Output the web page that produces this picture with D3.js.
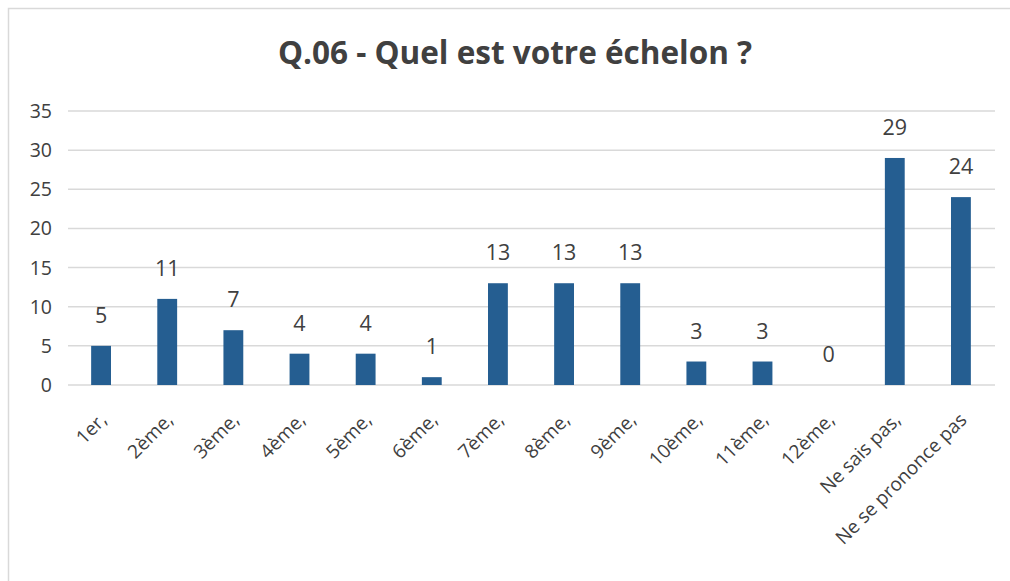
<!DOCTYPE html>
<html>
<head>
<meta charset="utf-8">
<style>
  body { margin: 0; background: #fff; }
  text { font-family: "Open Sans", sans-serif; fill: #404040; }
</style>
</head>
<body>
<svg width="1010" height="581"></svg>
<script src="https://d3js.org/d3.v7.min.js"></script>
<script>

const categories = ["1er,", "2ème,", "3ème,", "4ème,", "5ème,", "6ème,", "7ème,", "8ème,", "9ème,",
  "10ème,", "11ème,", "12ème,", "Ne sais pas,", "Ne se prononce pas"];
const values = [5, 11, 7, 4, 4, 1, 13, 13, 13, 3, 3, 0, 29, 24];
const yTicks = [0, 5, 10, 15, 20, 25, 30, 35];
const title = "Q.06 - Quel est votre échelon ?";

const svg = d3.select("svg");

// chart frame
svg.append("rect")
  .attr("x", 8.5).attr("y", 8.5)
  .attr("width", 1010).attr("height", 600)
  .attr("fill", "none")
  .attr("stroke", "#d9d9d9")
  .attr("stroke-width", 1.5);

svg.append("text")
  .attr("x", 515).attr("y", 64)
  .attr("text-anchor", "middle")
  .attr("font-size", 31.5)
  .attr("font-weight", "bold")
  .text(title);

const x = d3.scaleBand()
  .domain(categories)
  .range([68, 994])
  .paddingInner(0.7)
  .paddingOuter(0.35);

const y = d3.scaleLinear()
  .domain([0, 35])
  .range([385, 111]);

// gridlines
svg.append("g")
  .selectAll("line")
  .data(yTicks)
  .enter()
  .append("line")
  .attr("x1", 68).attr("x2", 995)
  .attr("y1", d => y(d)).attr("y2", d => y(d))
  .attr("stroke", "#d9d9d9")
  .attr("stroke-width", 1.5);

// y labels
svg.append("g")
  .selectAll("text")
  .data(yTicks)
  .enter()
  .append("text")
  .attr("x", 52)
  .attr("y", d => y(d) + 7)
  .attr("text-anchor", "end")
  .attr("font-size", 19.5)
  .text(d => d);

// bars
svg.append("g")
  .selectAll("rect")
  .data(values)
  .enter()
  .append("rect")
  .attr("x", (d, i) => x(categories[i]))
  .attr("y", d => y(d))
  .attr("width", x.bandwidth())
  .attr("height", d => y(0) - y(d))
  .attr("fill", "#255e91");

// value labels
svg.append("g")
  .selectAll("text")
  .data(values)
  .enter()
  .append("text")
  .attr("x", (d, i) => x(categories[i]) + x.bandwidth() / 2)
  .attr("y", d => y(d) - 23)
  .attr("text-anchor", "middle")
  .attr("font-size", 21.5)
  .text(d => d);

// category labels
svg.append("g")
  .selectAll("text")
  .data(categories)
  .enter()
  .append("text")
  .attr("text-anchor", "end")
  .attr("font-size", 19)
  .attr("transform", d => "translate(" + (x(d) + x.bandwidth() / 2 + 7) + ",421) rotate(-45)")
  .text(d => d);

</script>
</body>
</html>
